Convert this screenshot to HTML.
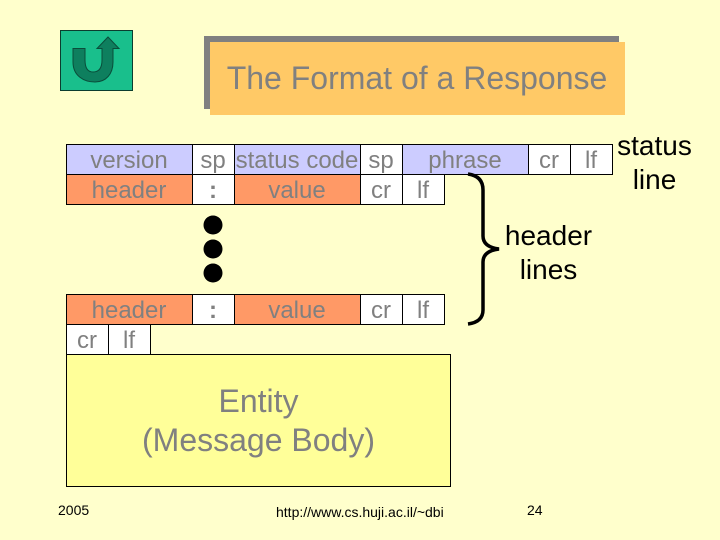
<!DOCTYPE html>
<html><head><meta charset="utf-8"><style>
html,body{margin:0;padding:0;background:#ffffcc}
svg{display:block}
text{font-family:"Liberation Sans",sans-serif}
.c{font-size:24px;fill:#808080;text-anchor:middle}
.k{font-size:28px;fill:#000;text-anchor:middle}
.f{font-size:14px;fill:#000}
rect.b{stroke:#000;stroke-width:1}
</style></head><body>
<svg width="720" height="540" viewBox="0 0 720 540" xmlns="http://www.w3.org/2000/svg">
<rect width="720" height="540" fill="#ffffcc"/>
<rect x="60.500" y="30.500" width="72" height="60" fill="#19bf8c" stroke="#0b3d2e"/>
<path d="M73 48.500H85V60C85 68 88 72 93 72C99 72 102 68 102 60V48.500H97L108 37L119 48.500H113V62C113 74 106 82 95 82C84 82 73 76 73 62Z" fill="#0e7f5e" stroke="#0a4d3a"/>
<rect x="204" y="36" width="415" height="73" fill="#808080"/>
<rect x="210" y="42" width="415" height="73" fill="#ffc966"/>
<text x="417" y="89" font-size="32" fill="#808080" text-anchor="middle">The Format of a Response</text>

<rect class="b" x="66.500" y="144.500" width="126" height="30" fill="#ccccff"/>
<rect class="b" x="192.500" y="144.500" width="42" height="30" fill="#fff"/>
<rect class="b" x="234.500" y="144.500" width="126" height="30" fill="#ccccff"/>
<rect class="b" x="360.500" y="144.500" width="42" height="30" fill="#fff"/>
<rect class="b" x="402.500" y="144.500" width="126" height="30" fill="#ccccff"/>
<rect class="b" x="528.500" y="144.500" width="42" height="30" fill="#fff"/>
<rect class="b" x="570.500" y="144.500" width="42" height="30" fill="#fff"/>
<text class="c" x="129" y="168">version</text>
<text class="c" x="213" y="168">sp</text>
<text class="c" x="297" y="168">status code</text>
<text class="c" x="381" y="168">sp</text>
<text class="c" x="465" y="168">phrase</text>
<text class="c" x="549" y="168">cr</text>
<text class="c" x="591" y="168">lf</text>

<rect class="b" x="66.500" y="174.500" width="126" height="30" fill="#ff9966"/>
<rect class="b" x="192.500" y="174.500" width="42" height="30" fill="#fff"/>
<rect class="b" x="234.500" y="174.500" width="126" height="30" fill="#ff9966"/>
<rect class="b" x="360.500" y="174.500" width="42" height="30" fill="#fff"/>
<rect class="b" x="402.500" y="174.500" width="42" height="30" fill="#fff"/>
<text class="c" x="129" y="198">header</text>
<text class="c" x="213" y="198" font-weight="bold">:</text>
<text class="c" x="297" y="198">value</text>
<text class="c" x="381" y="198">cr</text>
<text class="c" x="423" y="198">lf</text>

<circle cx="213" cy="225" r="9.500"/>
<circle cx="213" cy="249" r="9.500"/>
<circle cx="213" cy="273" r="9.500"/>

<rect class="b" x="66.500" y="294.500" width="126" height="30" fill="#ff9966"/>
<rect class="b" x="192.500" y="294.500" width="42" height="30" fill="#fff"/>
<rect class="b" x="234.500" y="294.500" width="126" height="30" fill="#ff9966"/>
<rect class="b" x="360.500" y="294.500" width="42" height="30" fill="#fff"/>
<rect class="b" x="402.500" y="294.500" width="42" height="30" fill="#fff"/>
<text class="c" x="129" y="318">header</text>
<text class="c" x="213" y="318" font-weight="bold">:</text>
<text class="c" x="297" y="318">value</text>
<text class="c" x="381" y="318">cr</text>
<text class="c" x="423" y="318">lf</text>

<rect class="b" x="66.500" y="324.500" width="42" height="30" fill="#fff"/>
<rect class="b" x="108.500" y="324.500" width="42" height="30" fill="#fff"/>
<text class="c" x="87" y="348">cr</text>
<text class="c" x="129" y="348">lf</text>

<rect class="b" x="66.500" y="354.500" width="384" height="132" fill="#ffff99"/>
<text x="258.500" y="412" font-size="32" fill="#808080" text-anchor="middle">Entity</text>
<text x="258.500" y="451" font-size="32" fill="#808080" text-anchor="middle">(Message Body)</text>

<path d="M468 174Q483 176 483 190V236Q483 247 499 249Q483 251 483 262V310Q483 322 468 324" fill="none" stroke="#000" stroke-width="3.500"/>
<text class="k" x="654.500" y="155">status</text>
<text class="k" x="654.500" y="189">line</text>
<text class="k" x="548.500" y="245">header</text>
<text class="k" x="548.500" y="279">lines</text>

<text class="f" x="58" y="515">2005</text>
<text class="f" x="276" y="517">http://www.cs.huji.ac.il/~dbi</text>
<text class="f" x="527" y="515">24</text>
</svg>
</body></html>
